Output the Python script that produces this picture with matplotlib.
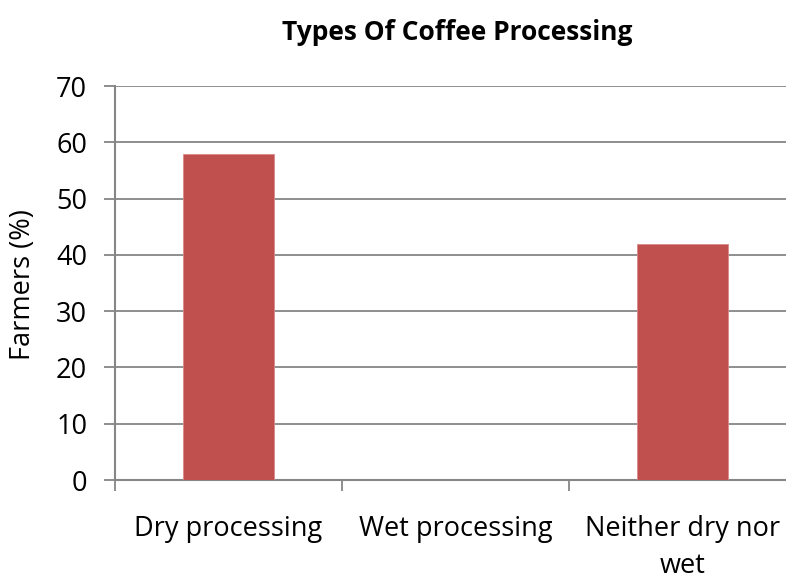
import matplotlib
matplotlib.use("Agg")
import matplotlib.pyplot as plt
import numpy as np

categories = ["Dry processing", "Wet processing", "Neither dry nor\nwet"]
farmers_pct = [58, 0, 42]
yticks = [0, 10, 20, 30, 40, 50, 60, 70]

BAR_COLOR = "#C0504D"
AXIS_GRAY = "#868686"
FS = 19.5

plt.rcParams["font.family"] = ["Open Sans", "DejaVu Sans"]

fig = plt.figure(figsize=(7.86, 5.77), dpi=100)
# plot area runs a little past the right edge of the figure
ax = fig.add_axes([0.1463, 0.1681, 0.8664, 0.6828])

x = np.arange(len(categories))
ax.bar(x, farmers_pct, width=0.4, color=BAR_COLOR, edgecolor="#D88A88",
       linewidth=0.6, zorder=3)

ax.set_xlim(-0.5, len(categories) - 0.5 + 0.001)
ax.set_ylim(0, 70)
ax.set_yticks(yticks)
ax.yaxis.grid(True, color=AXIS_GRAY, linewidth=1.3, zorder=0)

ax.set_xticks(x)
ax.set_xticklabels(categories, fontsize=FS, linespacing=1.42)
ax.set_xticks(np.arange(-0.5, len(categories) + 0.5), minor=True)
ax.tick_params(axis="x", which="major", length=0, pad=25.5)
ax.tick_params(axis="x", which="minor", length=8, width=1.3, color=AXIS_GRAY)
ax.tick_params(axis="y", length=8, width=1.3, color=AXIS_GRAY,
               labelsize=FS, pad=12)

for side in ("top", "right"):
    ax.spines[side].set_visible(False)
for side in ("left", "bottom"):
    ax.spines[side].set_color(AXIS_GRAY)
    ax.spines[side].set_linewidth(1.5)

fig.text(23 / 786, 0.506, "Farmers (%)", fontsize=FS, rotation=90,
         ha="center", va="center")
fig.text(0.5814, 0.9445, "Types Of Coffee Processing", fontsize=19,
         fontweight="bold", ha="center", va="center")

fig.savefig("out.png", dpi=100, facecolor="white")
